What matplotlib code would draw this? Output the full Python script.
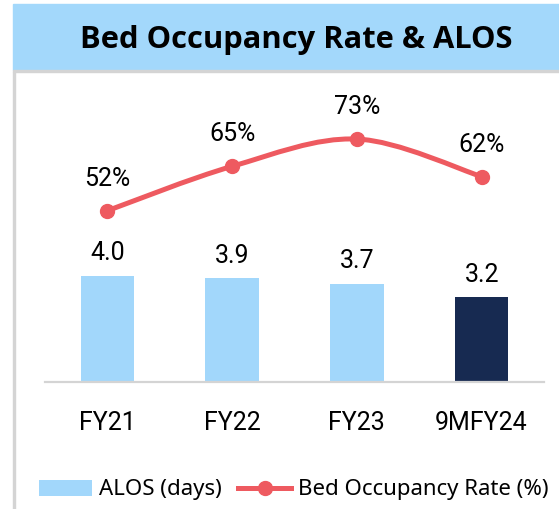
import matplotlib
matplotlib.use("Agg")
import matplotlib.pyplot as plt
from matplotlib.patches import Rectangle, PathPatch
from matplotlib.path import Path
from matplotlib.lines import Line2D
from matplotlib.patches import Patch

categories = ["FY21", "FY22", "FY23", "9MFY24"]
alos_days = [4.0, 3.9, 3.7, 3.2]
occupancy_pct = [52, 65, 73, 62]
alos_labels = ["4.0", "3.9", "3.7", "3.2"]
occupancy_labels = ["52%", "65%", "73%", "62%"]

light_blue = "#A2D7FB"
navy = "#172A51"
red = "#EE5A60"
grey = "#D4D4D4"
bar_colors = [light_blue, light_blue, light_blue, navy]

W, H = 559, 509
fig = plt.figure(figsize=(W / 100, H / 100), dpi=100)

# title band and frame lines
fig.patches.append(Rectangle((13 / W, 1 - 70.3 / H), 1 - 13 / W, 66.3 / H,
                             transform=fig.transFigure, color="#A3D8FB", zorder=0))
fig.patches.append(Rectangle((13 / W, 1 - 72.3 / H), 1 - 13 / W, 2 / H,
                             transform=fig.transFigure, color=grey, zorder=0))
fig.patches.append(Rectangle((13 / W, 0), 2 / W, 1 - 72 / H,
                             transform=fig.transFigure, color=grey, zorder=0))
fig.text(296.5 / W, 1 - 48 / H, "Bed Occupancy Rate & ALOS", ha="center",
         va="baseline", fontsize=22.2, fontweight="bold", family="Open Sans")

ax = fig.add_axes([45 / W, 1 - 382 / H, 499 / W, 302 / H])
x = list(range(len(categories)))
ax.bar(x, alos_days, width=0.43, color=bar_colors, zorder=2)
ax.set_xlim(-0.5, len(categories) - 0.5)
ax.set_ylim(0, 302 / 26.6)
for xi, v, lab in zip(x, alos_days, alos_labels):
    ax.annotate(lab, (xi, v), xytext=(0, 16), textcoords="offset points",
                ha="center", va="center", fontsize=18, family="Roboto")

for s in ["top", "left", "right"]:
    ax.spines[s].set_visible(False)
ax.spines["bottom"].set_color(grey)
ax.spines["bottom"].set_linewidth(1.6)
ax.set_yticks([])
ax.set_xticks(x)
ax.set_xticklabels(categories, fontsize=18, family="Roboto")
ax.tick_params(axis="x", length=0, pad=21)

ax2 = ax.twinx()
ax2.set_ylim(1.8, 90.3)
ax2.set_yticks([])
for s in ax2.spines.values():
    s.set_visible(False)

# smoothed line (Catmull-Rom style Bezier through the points)
pts = list(zip(x, occupancy_pct))
verts = [pts[0]]
codes = [Path.MOVETO]
n = len(pts)
for i in range(n - 1):
    p0 = pts[max(i - 1, 0)]
    p1 = pts[i]
    p2 = pts[i + 1]
    p3 = pts[min(i + 2, n - 1)]
    c1 = (p1[0] + (p2[0] - p0[0]) / 6, p1[1] + (p2[1] - p0[1]) / 6)
    c2 = (p2[0] - (p3[0] - p1[0]) / 6, p2[1] - (p3[1] - p1[1]) / 6)
    verts += [c1, c2, p2]
    codes += [Path.CURVE4] * 3
ax2.add_patch(PathPatch(Path(verts, codes), fill=False, edgecolor=red,
                        linewidth=3.6, capstyle="round", zorder=3))
ax2.plot(x, occupancy_pct, linestyle="none", marker="o", markersize=10,
         color=red, zorder=4)
for xi, v, lab in zip(x, occupancy_pct, occupancy_labels):
    ax2.annotate(lab, (xi, v), xytext=(0, 23), textcoords="offset points",
                 ha="center", va="center", fontsize=18, family="Roboto")

handles = [Patch(facecolor=light_blue, edgecolor="none"),
           Line2D([0], [0], color=red, linewidth=3.6, marker="o", markersize=10)]
fig.legend(handles, ["ALOS (days)", "Bed Occupancy Rate (%)"], ncol=2,
           loc="center", bbox_to_anchor=(293.5 / W, 1 - 490 / H), frameon=False,
           prop={"family": "Noto Sans", "size": 16}, handlelength=2.4,
           handleheight=0.7, handletextpad=0.3, columnspacing=0.75,
           borderpad=0, borderaxespad=0)

fig.savefig("out.png", dpi=100)
